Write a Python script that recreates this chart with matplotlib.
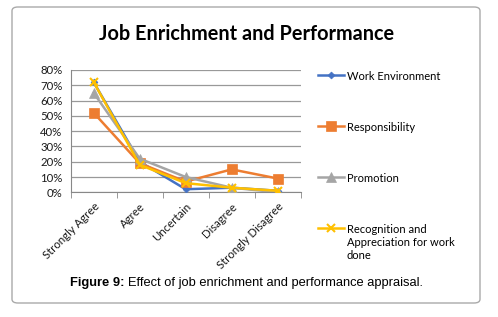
import matplotlib
matplotlib.use("Agg")
import matplotlib.pyplot as plt
from matplotlib.patches import FancyBboxPatch
from matplotlib.ticker import FixedLocator, PercentFormatter

categories = ["Strongly Agree", "Agree", "Uncertain", "Disagree", "Strongly Disagree"]
work_env = [72, 20, 2, 3, 1]
responsibility = [52, 19, 7, 15, 9]
promotion = [65, 22, 10, 3, 0]
recognition = [72, 18, 6, 3, 1]
y_ticks = [0, 10, 20, 30, 40, 50, 60, 70, 80]

series = [
    ("Work Environment", work_env, "#4472C4", "D", 3.5),
    ("Responsibility", responsibility, "#ED7D31", "s", 6.5),
    ("Promotion", promotion, "#A5A5A5", "^", 6.5),
    ("Recognition and\nAppreciation for work\ndone", recognition, "#FFC000", "x", 6),
]

W, H = 498, 317
fig = plt.figure(figsize=(W / 100, H / 100), dpi=100)
fig.patch.set_facecolor("white")

box = FancyBboxPatch((12 / W, 1 - 303 / H), (480 - 12) / W, (303 - 7) / H,
                     boxstyle="round,pad=0,rounding_size=0.012",
                     transform=fig.transFigure, facecolor="none",
                     edgecolor="#AAAAAA", linewidth=1.0, zorder=-1)
fig.add_artist(box)

ax = fig.add_axes([70.7 / W, 1 - 192.3 / H, 230 / W, (192.3 - 70) / H])
ax.set_facecolor("none")
x = list(range(len(categories)))
handles = []
for name, vals, col, mk, ms in series:
    h, = ax.plot(x, vals, color=col, linewidth=1.8, marker=mk, markersize=ms,
                 markeredgewidth=1.5 if mk == "x" else 0.5, markeredgecolor=col,
                 label=name, zorder=3)
    handles.append(h)

ax.set_xlim(-0.5, len(categories) - 0.5)
ax.set_ylim(0, 80)
ax.set_yticks(y_ticks)
ax.yaxis.set_major_formatter(PercentFormatter(decimals=0))
ax.set_xticks(x)
ax.set_xticklabels(categories, rotation=45, ha="right", rotation_mode="anchor")
ax.xaxis.set_minor_locator(FixedLocator([i - 0.5 for i in range(len(categories) + 1)]))
ax.tick_params(axis="x", which="major", length=0, pad=6)
ax.tick_params(axis="x", which="minor", length=4, color="#888888")
ax.tick_params(axis="y", length=0, pad=6)
ax.grid(axis="y", color="#999999", linewidth=0.9)
ax.set_axisbelow(True)
for s in ["top", "right"]:
    ax.spines[s].set_visible(False)
for s in ["left", "bottom"]:
    ax.spines[s].set_color("#888888")
for lbl in ax.get_xticklabels() + ax.get_yticklabels():
    lbl.set_fontfamily("Lato")
    lbl.set_fontsize(8.2)
    lbl.set_color("#1a1a1a")

leg = ax.legend(handles=handles, loc="upper left",
                bbox_to_anchor=(318 / W, 1 - 71 / H), bbox_transform=fig.transFigure,
                frameon=False, borderpad=0, borderaxespad=0, handlelength=2.3,
                handletextpad=0.3, labelspacing=3.6,
                prop={"family": "Lato", "size": 8})
try:
    for col in leg._legend_handle_box.get_children():
        for entry in col.get_children():
            entry.align = "top"
except Exception:
    pass

fig.text(247 / W, 1 - 34 / H, "Job Enrichment and Performance", ha="center", va="center",
         fontsize=14.3, fontweight="bold", fontfamily="Lato", color="black")

t1 = fig.text(70 / W, 1 - 283 / H, "Figure 9:", ha="left", va="center", fontsize=9.3,
              fontweight="bold", fontfamily="Liberation Sans", color="black")
ax.annotate("Effect of job enrichment and performance appraisal.",
            xy=(1, 0.5), xycoords=t1, xytext=(2.5, 0), textcoords="offset points",
            ha="left", va="center", fontsize=9.3, fontfamily="Liberation Sans",
            color="black", annotation_clip=False)

fig.savefig("out.png", dpi=100)
